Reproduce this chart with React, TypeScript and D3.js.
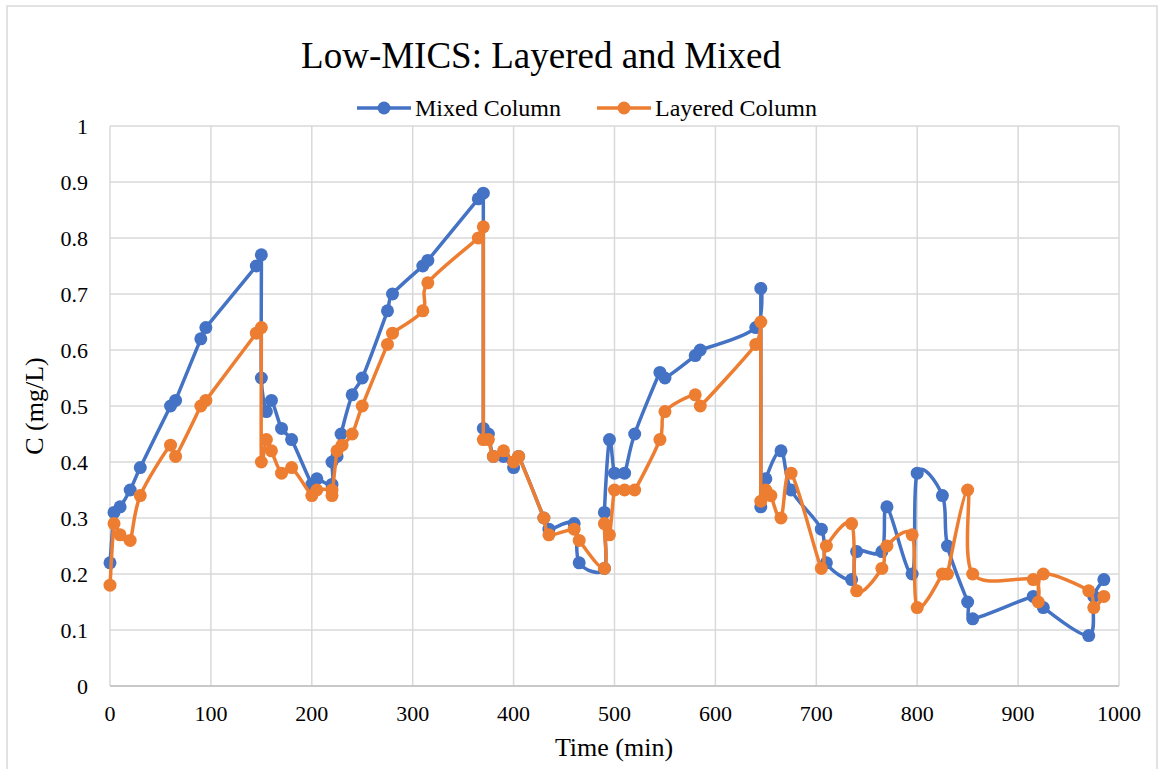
import React from 'react';
import * as d3 from 'd3';

const mixedTime = [0, 4, 10, 20, 30, 60, 65, 90, 95, 145, 150, 150, 155, 160, 170, 180, 200, 205, 220, 220, 225, 229, 240, 250, 275, 280, 310, 315, 365, 370, 370, 375, 380, 390, 400, 405, 430, 435, 460, 465, 490, 490, 495, 500, 510, 520, 545, 550, 580, 585, 640, 645, 645, 650, 665, 675, 705, 710, 735, 740, 765, 770, 795, 800, 825, 830, 850, 855, 915, 925, 970, 975, 985];
const mixedConc = [0.22, 0.31, 0.32, 0.35, 0.39, 0.5, 0.51, 0.62, 0.64, 0.75, 0.77, 0.55, 0.49, 0.51, 0.46, 0.44, 0.36, 0.37, 0.36, 0.4, 0.41, 0.45, 0.52, 0.55, 0.67, 0.7, 0.75, 0.76, 0.87, 0.88, 0.46, 0.45, 0.41, 0.41, 0.39, 0.41, 0.3, 0.28, 0.29, 0.22, 0.21, 0.31, 0.44, 0.38, 0.38, 0.45, 0.56, 0.55, 0.59, 0.6, 0.64, 0.71, 0.32, 0.37, 0.42, 0.35, 0.28, 0.22, 0.19, 0.24, 0.24, 0.32, 0.2, 0.38, 0.34, 0.25, 0.15, 0.12, 0.16, 0.14, 0.09, 0.16, 0.19];

const layeredTime = [0, 4, 10, 20, 30, 60, 65, 90, 95, 145, 150, 150, 155, 160, 170, 180, 200, 205, 220, 220, 225, 230, 240, 250, 275, 280, 310, 315, 365, 370, 370, 375, 380, 390, 400, 405, 430, 435, 460, 465, 490, 490, 495, 500, 510, 520, 545, 550, 580, 585, 640, 645, 645, 650, 655, 665, 675, 705, 710, 735, 740, 765, 770, 795, 800, 825, 830, 850, 855, 915, 920, 925, 970, 975, 985];
const layeredConc = [0.18, 0.29, 0.27, 0.26, 0.34, 0.43, 0.41, 0.5, 0.51, 0.63, 0.64, 0.4, 0.44, 0.42, 0.38, 0.39, 0.34, 0.35, 0.35, 0.34, 0.42, 0.43, 0.45, 0.5, 0.61, 0.63, 0.67, 0.72, 0.8, 0.82, 0.44, 0.44, 0.41, 0.42, 0.4, 0.41, 0.3, 0.27, 0.28, 0.26, 0.21, 0.29, 0.27, 0.35, 0.35, 0.35, 0.44, 0.49, 0.52, 0.5, 0.61, 0.65, 0.33, 0.35, 0.34, 0.3, 0.38, 0.21, 0.25, 0.29, 0.17, 0.21, 0.25, 0.27, 0.14, 0.2, 0.2, 0.35, 0.2, 0.19, 0.15, 0.2, 0.17, 0.14, 0.16];

const xTicks = [0, 100, 200, 300, 400, 500, 600, 700, 800, 900, 1000];
const yTicks = [0, 0.1, 0.2, 0.3, 0.4, 0.5, 0.6, 0.7, 0.8, 0.9, 1];

const series = [
  { name: 'Mixed Column', color: '#4472C4', time: mixedTime, conc: mixedConc },
  { name: 'Layered Column', color: '#ED7D31', time: layeredTime, conc: layeredConc },
];

const W = 1158;
const H = 769;
const plot = { left: 110, right: 1119, top: 126, bottom: 686 };
const font = '"Liberation Serif", "Times New Roman", serif';

// Excel-like smoothed line: Bezier arms of (P[i+1]-P[i-1])/6,
// capped at half the shorter neighbouring segment.
function smoothPath(pts: [number, number][]) {
  const p = d3.path();
  const n = pts.length;
  if (!n) return '';
  const dist = (a: [number, number], b: [number, number]) => Math.hypot(b[0] - a[0], b[1] - a[1]);
  const arms = pts.map((pt, i) => {
    const prev = pts[Math.max(0, i - 1)];
    const next = pts[Math.min(n - 1, i + 1)];
    let vx = (next[0] - prev[0]) / 6;
    let vy = (next[1] - prev[1]) / 6;
    const len = Math.hypot(vx, vy);
    const dPrev = i > 0 ? dist(prev, pt) : Infinity;
    const dNext = i < n - 1 ? dist(pt, next) : Infinity;
    const cap = Math.min(dPrev, dNext) / 2;
    if (len > cap && len > 0) {
      vx *= cap / len;
      vy *= cap / len;
    }
    return [vx, vy];
  });
  p.moveTo(pts[0][0], pts[0][1]);
  for (let i = 0; i < n - 1; i++) {
    const a = pts[i];
    const b = pts[i + 1];
    p.bezierCurveTo(a[0] + arms[i][0], a[1] + arms[i][1], b[0] - arms[i + 1][0], b[1] - arms[i + 1][1], b[0], b[1]);
  }
  return p.toString();
}

const App: React.FC = () => {
  const x = d3.scaleLinear().domain([0, 1000]).range([plot.left, plot.right]);
  const y = d3.scaleLinear().domain([0, 1]).range([plot.bottom, plot.top]);

  const legendItems = [
    { lineX: 357, textX: 415 },
    { lineX: 597, textX: 655 },
  ];

  return (
    <svg width={W} height={H} style={{ position: 'absolute', left: 0, top: 0, background: '#fff' }} fontFamily={font}>
      <rect x={7} y={6} width={1150} height={H} fill="#fff" stroke="#d9d9d9" strokeWidth={1.5} />

      {/* gridlines */}
      {yTicks.map(t => (
        <line key={'gy' + t} x1={plot.left} x2={plot.right} y1={y(t)} y2={y(t)} stroke="#d9d9d9" strokeWidth={1.5} />
      ))}
      {xTicks.map(t => (
        <line key={'gx' + t} x1={x(t)} x2={x(t)} y1={plot.top} y2={plot.bottom} stroke="#d9d9d9" strokeWidth={1.5} />
      ))}
      <line x1={plot.left} x2={plot.right} y1={plot.bottom} y2={plot.bottom} stroke="#bfbfbf" strokeWidth={1.5} />

      {/* tick labels */}
      {yTicks.map(t => (
        <text key={'ly' + t} x={88} y={y(t)} dy="0.35em" textAnchor="end" fontSize={22} fill="#000">
          {d3.format('~g')(t)}
        </text>
      ))}
      {xTicks.map(t => (
        <text key={'lx' + t} x={x(t)} y={721} textAnchor="middle" fontSize={22} fill="#000">
          {t}
        </text>
      ))}

      {/* series */}
      {series.map(s => {
        const pts = s.time.map((t, i) => [x(t), y(s.conc[i])] as [number, number]);
        return (
          <g key={s.name}>
            <path d={smoothPath(pts)} fill="none" stroke={s.color} strokeWidth={3.5} strokeLinejoin="round" />
            {pts.map((p, i) => (
              <circle key={i} cx={p[0]} cy={p[1]} r={6.5} fill={s.color} />
            ))}
          </g>
        );
      })}

      {/* title */}
      <text x={541} y={68} textAnchor="middle" fontSize={37} fill="#000">Low-MICS: Layered and Mixed</text>

      {/* legend */}
      {series.map((s, i) => (
        <g key={'leg' + s.name}>
          <line x1={legendItems[i].lineX} x2={legendItems[i].lineX + 54} y1={108} y2={108} stroke={s.color} strokeWidth={3.5} />
          <circle cx={legendItems[i].lineX + 27} cy={108} r={6.5} fill={s.color} />
          <text x={legendItems[i].textX} y={116} fontSize={24} fill="#000">{s.name}</text>
        </g>
      ))}

      {/* axis titles */}
      <text x={614} y={756} textAnchor="middle" fontSize={26} fill="#000">Time (min)</text>
      <text transform={`translate(43,${(plot.top + plot.bottom) / 2}) rotate(-90)`} textAnchor="middle" fontSize={26} fill="#000">C (mg/L)</text>
    </svg>
  );
};

export default App;
